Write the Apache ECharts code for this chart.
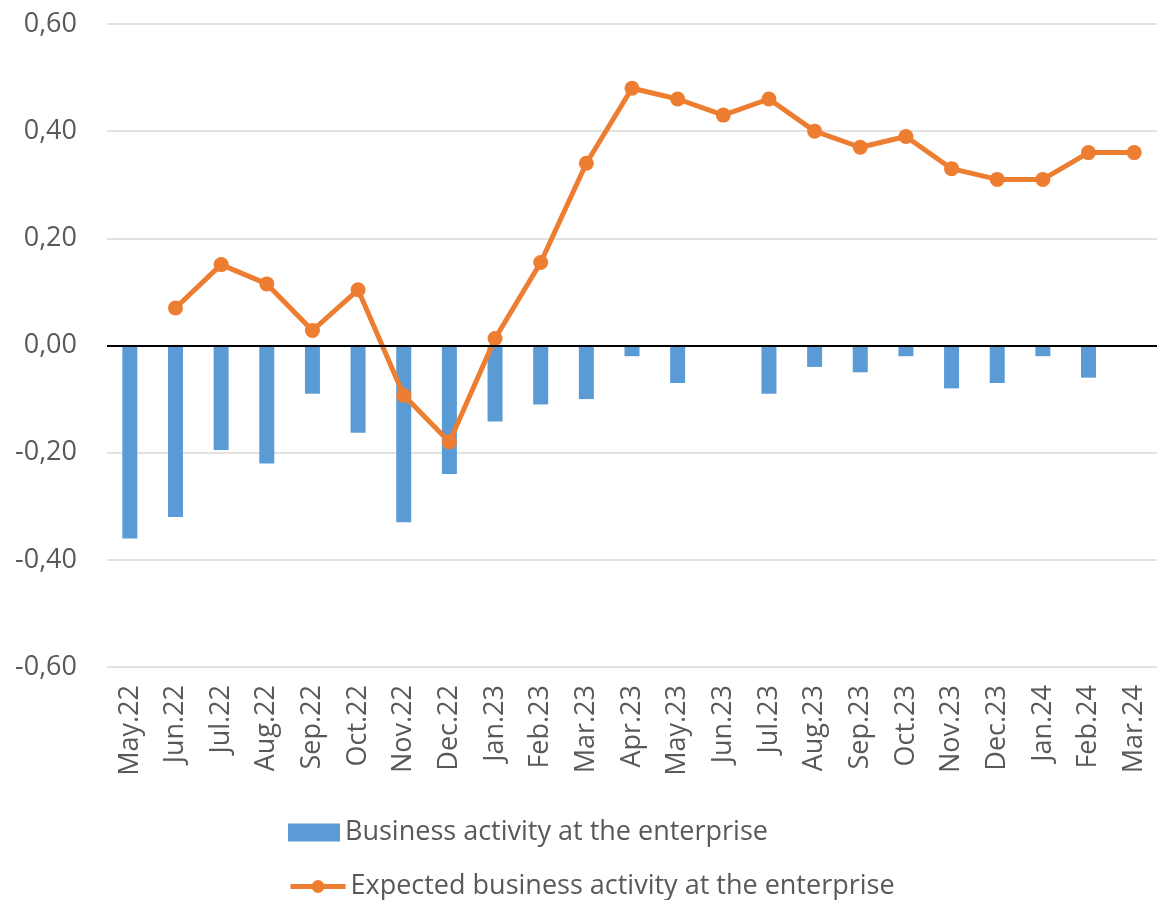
<!DOCTYPE html>
<html>
<head>
<meta charset="utf-8">
<script src="https://cdn.jsdelivr.net/npm/echarts@6/dist/echarts.min.js"></script>
<style>html,body{margin:0;padding:0;background:#fff}#c{width:1157px;height:900px}</style>
</head>
<body>
<div id="c"></div>
<script>
const categories = ['May.22','Jun.22','Jul.22','Aug.22','Sep.22','Oct.22','Nov.22','Dec.22','Jan.23','Feb.23','Mar.23','Apr.23','May.23','Jun.23','Jul.23','Aug.23','Sep.23','Oct.23','Nov.23','Dec.23','Jan.24','Feb.24','Mar.24'];
const businessActivity = [-0.36,-0.32,-0.195,-0.22,-0.09,-0.163,-0.33,-0.24,-0.142,-0.11,-0.10,-0.02,-0.07,0,-0.09,-0.04,-0.05,-0.02,-0.08,-0.07,-0.02,-0.06,0];
const expectedActivity = [null,0.07,0.151,0.115,0.028,0.104,-0.093,-0.18,0.013,0.155,0.34,0.48,0.46,0.43,0.46,0.40,0.37,0.39,0.33,0.31,0.31,0.36,0.36];
const seriesNames = ['Business activity at the enterprise','Expected business activity at the enterprise'];

const chart = echarts.init(document.getElementById('c'));
const font = 'Open Sans';
const legendText = { fontFamily: font, fontSize: 27, color: '#595959' };
chart.setOption({
  animation: false,
  backgroundColor: '#fff',
  grid: { left: 107, right: 0, top: 24, bottom: 233, containLabel: false },
  legend: [
    { left: 283, top: 814, itemWidth: 52, itemHeight: 18, textStyle: legendText,
      data: [{ name: seriesNames[0], icon: 'rect' }] },
    { left: 283, top: 868, itemWidth: 55, itemHeight: 16, textStyle: legendText,
      lineStyle: { width: 5, color: '#ed7d31' },
      data: [{ name: seriesNames[1] }] }
  ],
  xAxis: {
    type: 'category', data: categories,
    axisLine: { show: false, onZero: false },
    axisTick: { show: false },
    axisLabel: { rotate: 90, margin: 18, fontFamily: font, fontSize: 27, color: '#595959', interval: 0 }
  },
  yAxis: {
    type: 'value', min: -0.6, max: 0.6, interval: 0.2,
    axisLine: { show: false }, axisTick: { show: false },
    splitLine: { lineStyle: { color: '#d9d9d9', width: 1.5 } },
    axisLabel: { margin: 30, fontFamily: font, fontSize: 27, color: '#595959',
      formatter: v => v.toFixed(2).replace('.', ',') }
  },
  series: [
    {
      name: seriesNames[0], type: 'bar', data: businessActivity, barWidth: 15,
      itemStyle: { color: '#5b9bd5' },
      markLine: { silent: true, symbol: 'none', label: { show: false },
        lineStyle: { color: '#000', width: 2, type: 'solid' }, data: [{ yAxis: 0 }] },
      z: 2
    },
    {
      name: seriesNames[1], type: 'line', data: expectedActivity,
      symbol: 'circle', symbolSize: 15,
      lineStyle: { color: '#ed7d31', width: 5 },
      itemStyle: { color: '#ed7d31' },
      z: 3
    }
  ]
});
</script>
</body>
</html>
